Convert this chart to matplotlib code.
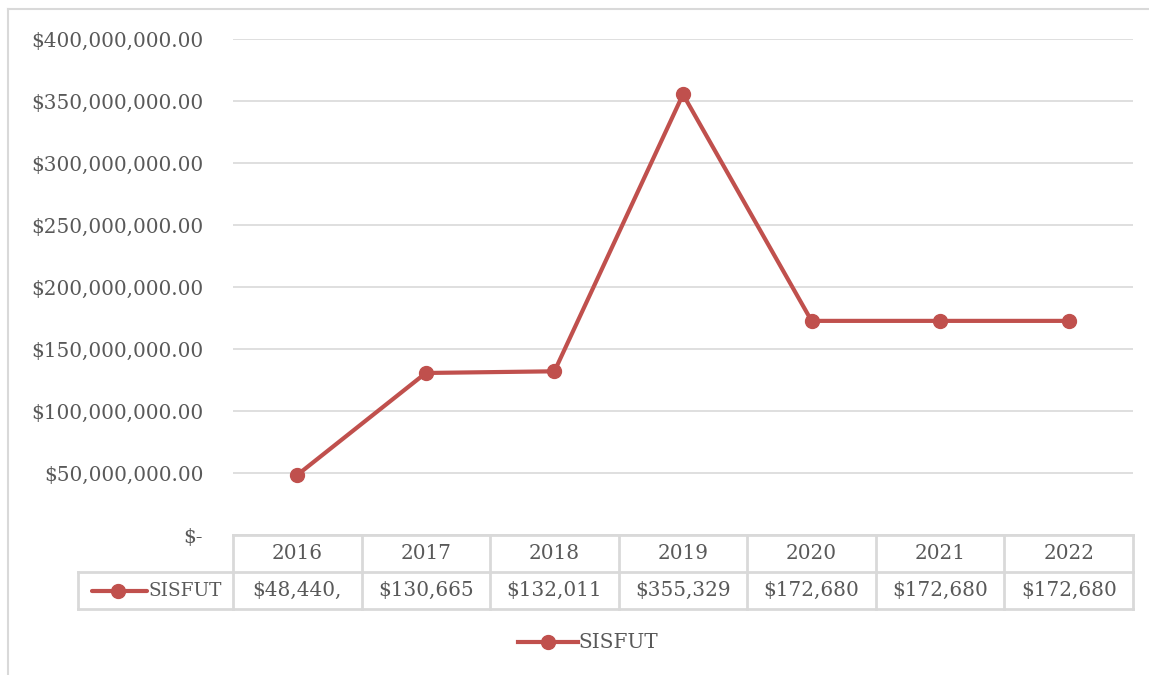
import matplotlib
matplotlib.use("Agg")
import matplotlib.pyplot as plt
from matplotlib.lines import Line2D
from matplotlib.transforms import blended_transform_factory

years = ["2016", "2017", "2018", "2019", "2020", "2021", "2022"]
sisfut = [48_440_000, 130_665_000, 132_011_000, 355_329_000,
          172_680_000, 172_680_000, 172_680_000]
y_ticks = [0, 50_000_000, 100_000_000, 150_000_000, 200_000_000,
           250_000_000, 300_000_000, 350_000_000, 400_000_000]
series_name = "SISFUT"

red = "#C0504D"
grid = "#D9D9D9"
txt = "#595959"
plt.rcParams['font.family'] = ['DejaVu Serif']
fs = 14.4

W, H = 1149, 675
fig = plt.figure(figsize=(W / 100, H / 100), dpi=100)

# plot area in pixels
x0, x1 = 233, 1133
ytop, ybot = 39, 535
ax = fig.add_axes([x0 / W, (H - ybot) / H, (x1 - x0) / W, (ybot - ytop) / H])

x = list(range(len(years)))
ax.plot(x, sisfut, color=red, lw=3, marker="o", ms=10, solid_capstyle="round")
ax.set_xlim(-0.5, len(years) - 0.5)
ax.set_ylim(0, 400_000_000)
ax.set_yticks(y_ticks)
ax.set_yticklabels(["$-" if v == 0 else f"${v:,.2f}" for v in y_ticks],
                   fontsize=fs, color=txt)
ax.set_xticks([])
ax.tick_params(axis="y", length=0, pad=21.5)
ax.grid(axis="y", color=grid, lw=1.2)
ax.set_axisbelow(True)
for s in ax.spines.values():
    s.set_visible(False)

# data table under the axis
row_h = 37 / (ybot - ytop)
tr = blended_transform_factory(ax.transData, ax.transAxes)
col_w = (x1 - x0) / len(years)
left_x = -0.5 - (x0 - 78) / col_w
line_kw = dict(color=grid, lw=2, clip_on=False)
for yy in (0, -row_h):
    ax.add_line(Line2D([-0.5, len(years) - 0.5], [yy, yy], transform=tr, **line_kw))
ax.add_line(Line2D([left_x, len(years) - 0.5], [-2 * row_h, -2 * row_h], transform=tr, **line_kw))
ax.add_line(Line2D([left_x, -0.5], [-row_h, -row_h], transform=tr, **line_kw))
ax.add_line(Line2D([left_x, left_x], [-row_h, -2 * row_h], transform=tr, **line_kw))
for i in range(len(years) + 1):
    ax.add_line(Line2D([i - 0.5, i - 0.5], [0, -2 * row_h], transform=tr, **line_kw))
for i, (yr, v) in enumerate(zip(years, sisfut)):
    ax.text(i, -0.5 * row_h, yr, transform=tr, ha="center", va="center",
            fontsize=fs, color=txt)
    ax.text(i, -1.5 * row_h, f"${v:,.2f}"[:8], transform=tr, ha="center",
            va="center", fontsize=fs, color=txt)
# legend key inside the table
kx = [left_x + (92 - 78) / col_w, left_x + (118 - 78) / col_w, left_x + (147 - 78) / col_w]
ax.add_line(Line2D(kx, [-1.5 * row_h] * 3, transform=tr, color=red, lw=3,
                   marker="o", markevery=[1], ms=10, clip_on=False,
                   solid_capstyle="round"))
ax.text(-0.5 - 11 / col_w, -1.5 * row_h, series_name, transform=tr, ha="right",
        va="center", fontsize=13.3, color=txt)

# legend at bottom
handle = Line2D([], [], color=red, lw=3, marker="o", ms=10)
fig.legend([handle], [series_name], loc="center", bbox_to_anchor=(588 / W, 1 - 643 / H),
           frameon=False, handlelength=3.0, handletextpad=0.0,
           prop={"size": fs}, labelcolor=txt)

# chart border (top and left visible)
fig.add_artist(Line2D([8 / W, 1], [1 - 9 / H, 1 - 9 / H], color=grid, lw=1.5))
fig.add_artist(Line2D([8 / W, 8 / W], [0, 1 - 9 / H], color=grid, lw=1.5))

fig.savefig("out.png", dpi=100, facecolor="white")
